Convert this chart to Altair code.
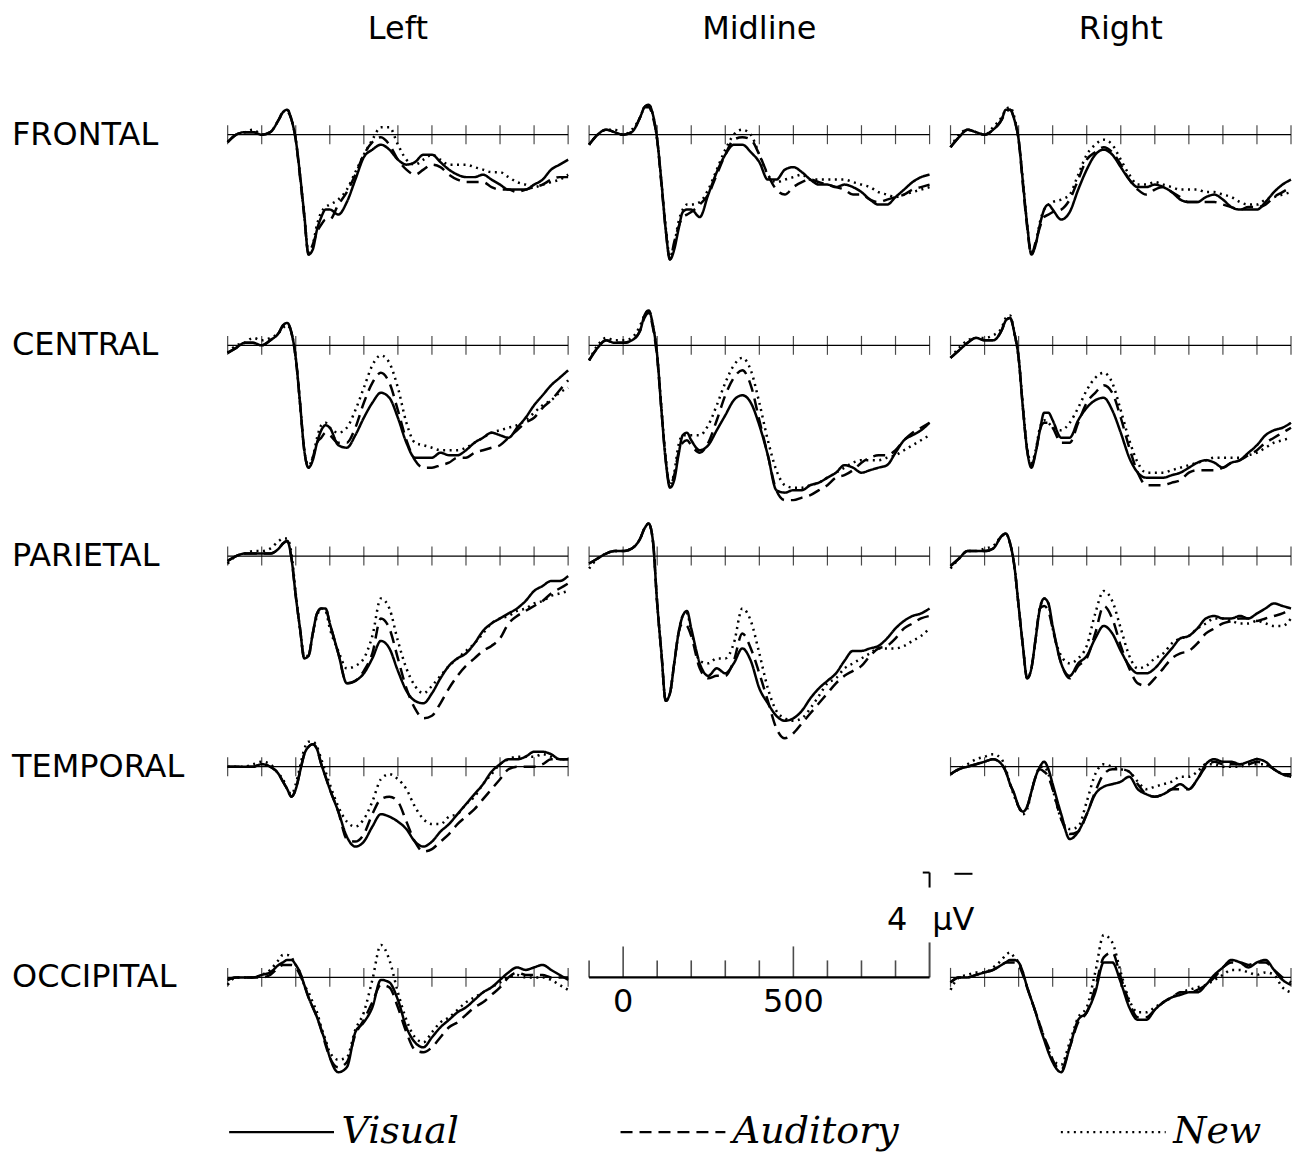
import altair as alt
import pandas as pd

# ---------------- time grid (ms) ----------------
T = [-100, -75, -50, -25, 0, 25, 50, 62.5, 75, 87.5, 100, 112.5, 125, 137.5, 150,
     162.5, 175, 187.5, 200, 225, 250, 275, 300, 325, 350, 375, 400, 425, 450, 475,
     500, 525, 550, 575, 600, 625, 650, 675, 700, 725, 750, 775, 800, 825, 850, 875, 900]
TICK_TIMES = [-100, 0, 100, 200, 300, 400, 500, 600, 700, 800, 900]
CONDS = ["Visual", "Auditory", "New"]
ROWS = ["FRONTAL", "CENTRAL", "PARIETAL", "TEMPORAL", "OCCIPITAL"]
COLS = ["Left", "Midline", "Right"]

# ---------------- amplitudes (uV, negative plotted up) ----------------
FL_VIS = [0.3,0,-0.1,-0.1,0,-0.1,-0.6,-0.9,-1.0,-0.6,0.2,1.6,3.2,4.8,4.6,3.8,3.3,3.0,3.0,3.2,2.7,1.8,0.9,0.6,0.4,0.6,1.0,1.2,1.1,0.8,0.8,1.1,1.4,1.6,1.7,1.7,1.6,1.8,2.0,2.2,2.2,2.2,2.0,1.8,1.4,1.2,1.0]
FL_AUD = [0.3,0,-0.1,-0.1,0,-0.1,-0.6,-0.9,-0.9,-0.6,0.2,1.7,3.3,4.8,4.4,3.9,3.6,3.4,3.4,2.8,2.3,1.6,0.8,0.3,0.1,0.4,1.0,1.4,1.6,1.4,1.2,1.3,1.6,1.8,1.9,1.9,1.9,2.1,2.2,2.2,2.3,2.2,2.1,2.0,1.8,1.7,1.7]
FL_NEW = [0.3,0,-0.1,-0.2,0,-0.1,-0.6,-0.9,-1.0,-0.6,0.2,1.6,3.2,4.7,4.4,3.6,3.1,2.9,2.8,2.6,2.2,1.5,0.8,0.2,-0.3,-0.3,0.4,1.0,1.2,1.0,0.8,1.0,1.2,1.2,1.2,1.3,1.4,1.5,1.5,1.7,1.9,2.0,2.1,2.0,1.9,1.8,1.6]

FM_VIS = [0.4,0,-0.2,-0.1,0,-0.1,-0.7,-1.1,-1.2,-0.8,0.2,1.9,3.8,5.0,4.6,3.8,3.1,3.0,3.0,3.3,2.4,1.5,0.8,0.4,0.4,0.7,1.1,1.8,1.8,1.4,1.3,1.5,1.8,2.0,2.0,2.1,2.0,2.1,2.3,2.6,2.8,2.8,2.5,2.2,1.9,1.7,1.6]
FM_AUD = [0.4,0,-0.2,-0.1,0,-0.1,-0.7,-1.1,-1.1,-0.7,0.2,2.0,3.8,5.0,4.3,3.7,3.3,3.2,3.1,2.8,2.4,1.6,0.8,0.2,0.1,0.2,0.8,1.6,2.2,2.4,2.1,1.9,1.8,1.9,2.0,2.1,2.2,2.4,2.4,2.6,2.7,2.6,2.5,2.4,2.2,2.1,2.0]
FM_NEW = [0.4,0,-0.2,-0.2,0,-0.2,-0.7,-1.1,-1.2,-0.8,0.2,1.9,3.7,4.9,4.4,3.5,3.0,2.8,2.8,2.7,2.2,1.4,0.6,0.0,-0.2,0.0,0.8,1.6,1.9,1.8,1.7,1.6,1.8,1.8,1.8,1.8,1.8,1.9,2.0,2.1,2.3,2.4,2.5,2.4,2.3,2.2,2.1]

FR_VIS = [0.5,0.1,-0.2,-0.1,0,-0.2,-0.6,-1.0,-1.0,-0.6,0.2,1.9,3.6,4.8,4.4,3.6,3.0,2.8,3.0,3.4,3.1,2.2,1.4,0.8,0.6,0.8,1.3,1.8,2.1,2.1,2.0,2.1,2.3,2.6,2.7,2.7,2.5,2.4,2.6,2.9,3.0,3.0,3.0,2.7,2.3,2.0,1.8]
FR_AUD = [0.5,0.1,-0.2,-0.1,0,-0.2,-0.6,-0.9,-1.0,-0.6,0.2,2.0,3.7,4.8,4.3,3.7,3.3,3.2,3.1,3.0,2.6,1.8,1.0,0.7,0.5,0.7,1.2,1.8,2.2,2.4,2.2,2.1,2.3,2.5,2.7,2.7,2.7,2.7,2.8,2.9,3.0,2.9,2.9,2.8,2.5,2.3,2.1]
FR_NEW = [0.5,0,-0.2,-0.1,0,-0.3,-0.7,-1.0,-1.1,-0.7,0.2,1.8,3.6,4.7,4.4,3.5,3.0,2.8,2.7,2.6,2.4,1.6,0.8,0.4,0.2,0.4,1.0,1.6,2.0,2.0,1.9,2.0,2.1,2.2,2.2,2.2,2.3,2.3,2.4,2.5,2.7,2.8,2.8,2.6,2.5,2.4,2.3]

CL_VIS = [0.3,0.1,-0.1,-0.1,0,-0.2,-0.5,-0.8,-0.9,-0.5,0.5,2.3,4.2,4.9,4.6,3.9,3.4,3.2,3.3,4.0,4.1,3.6,2.9,2.3,1.9,2.1,2.9,3.9,4.5,4.5,4.5,4.3,4.4,4.4,4.2,3.9,3.7,3.5,3.6,3.7,3.3,2.9,2.4,2.0,1.6,1.3,1.0]
CL_AUD = [0.3,0.1,-0.1,-0.1,0,-0.2,-0.5,-0.8,-0.9,-0.5,0.5,2.3,4.2,4.9,4.5,3.9,3.7,3.5,3.6,3.9,3.9,3.3,2.3,1.5,1.1,1.5,2.6,3.8,4.6,4.9,4.9,4.8,4.7,4.5,4.5,4.3,4.2,4.1,4.0,3.7,3.4,3.1,2.9,2.5,2.2,1.8,1.4]
CL_NEW = [0.3,0,-0.1,-0.3,-0.2,-0.3,-0.5,-0.7,-0.8,-0.5,0.5,2.3,4.2,4.8,4.5,3.7,3.2,3.1,3.3,3.5,3.3,2.6,1.7,0.8,0.4,0.7,1.7,3.1,3.9,4.0,4.1,4.2,4.2,4.2,4.1,3.9,3.7,3.5,3.4,3.3,3.2,3.0,2.7,2.4,2.2,1.9,1.7]

CM_VIS = [0.6,0.1,-0.2,-0.1,-0.1,-0.2,-0.6,-1.2,-1.4,-0.8,0.4,2.6,4.6,5.7,5.4,4.4,3.6,3.5,3.8,4.2,4.0,3.4,2.8,2.2,2.0,2.3,3.2,4.4,5.8,5.9,5.8,5.8,5.6,5.5,5.3,5.1,4.8,4.9,5.1,5.0,4.9,4.8,4.3,3.8,3.6,3.4,3.1]
CM_AUD = [0.6,0.1,-0.2,-0.1,-0.1,-0.2,-0.6,-1.1,-1.3,-0.7,0.5,2.6,4.6,5.6,5.2,4.3,3.9,3.8,4.0,4.3,3.9,3.0,2.0,1.3,1.0,1.6,3.0,4.4,5.8,6.2,6.2,6.1,6.0,5.8,5.6,5.3,5.2,5.0,4.7,4.5,4.4,4.4,4.2,3.8,3.5,3.3,3.1]
CM_NEW = [0.6,0.0,-0.3,-0.2,-0.2,-0.3,-0.8,-1.2,-1.4,-0.8,0.4,2.5,4.5,5.6,5.1,4.0,3.6,3.6,3.6,3.6,3.2,2.4,1.5,0.8,0.5,1.0,2.3,3.8,5.0,5.6,5.7,5.7,5.6,5.5,5.3,5.1,4.9,4.7,4.6,4.6,4.6,4.5,4.4,4.2,4.0,3.8,3.6]

CR_VIS = [0.5,0.2,-0.1,-0.3,-0.2,-0.2,-0.6,-1.0,-1.1,-0.5,0.5,2.5,4.2,4.9,4.3,3.4,2.7,2.7,3.0,3.7,3.7,3.0,2.5,2.2,2.1,2.6,3.5,4.5,5.1,5.3,5.3,5.3,5.2,5.1,4.9,4.7,4.6,4.7,4.9,4.7,4.6,4.3,4.0,3.6,3.4,3.3,3.1]
CR_AUD = [0.5,0.2,-0.1,-0.3,-0.2,-0.2,-0.6,-1.0,-1.1,-0.5,0.5,2.5,4.2,4.8,4.3,3.4,3.1,3.1,3.3,3.9,3.9,3.1,2.3,1.9,1.6,1.9,2.9,4.1,5.1,5.6,5.6,5.6,5.5,5.4,5.1,5.0,5.0,5.0,4.9,4.7,4.6,4.4,4.2,3.9,3.7,3.5,3.3]
CR_NEW = [0.5,0.1,-0.2,-0.3,-0.3,-0.4,-0.7,-1.1,-1.2,-0.5,0.5,2.4,4.1,4.7,4.2,3.3,3.0,3.1,3.3,3.4,3.1,2.5,1.8,1.3,1.1,1.5,2.6,3.8,4.7,5.1,5.1,5.1,5.0,4.9,4.8,4.7,4.6,4.5,4.5,4.5,4.5,4.4,4.3,4.1,3.9,3.8,3.7]

PL_VIS = [0.2,0.0,-0.1,-0.1,-0.1,-0.1,-0.3,-0.5,-0.6,0.1,1.6,2.9,4.1,4.0,3.1,2.3,2.1,2.1,2.7,3.9,5.1,5.0,4.7,4.1,3.4,3.7,4.6,5.4,5.8,5.9,5.5,4.9,4.4,4.1,3.9,3.5,3.0,2.7,2.5,2.3,2.1,1.8,1.4,1.2,1.0,1.0,0.8]
PL_AUD = [0.2,0.0,-0.1,-0.1,-0.1,-0.1,-0.3,-0.5,-0.6,0.1,1.6,2.9,4.1,4.0,3.1,2.3,2.1,2.1,2.7,3.9,5.1,5.0,4.6,3.9,2.5,2.9,4.1,5.3,6.1,6.5,6.4,5.9,5.3,4.8,4.4,4.1,3.8,3.6,3.3,2.7,2.4,2.2,2.0,1.8,1.5,1.3,1.1]
PL_NEW = [0.3,0.0,-0.1,-0.2,-0.2,-0.3,-0.6,-0.7,-0.7,-0.1,1.5,2.9,4.0,4.0,3.1,2.4,2.1,2.2,2.9,3.8,4.5,4.4,4.1,3.2,1.7,2.1,3.4,4.5,5.2,5.5,5.2,4.8,4.4,4.1,3.8,3.5,3.1,2.7,2.5,2.4,2.2,2.1,1.9,1.8,1.6,1.5,1.4]

PM_VIS = [0.3,0.1,-0.1,-0.2,-0.2,-0.3,-0.7,-1.1,-1.3,-0.6,1.9,3.9,5.8,5.5,4.3,3.1,2.4,2.2,2.9,4.3,4.8,4.5,4.7,4.3,3.7,4.2,5.3,5.9,6.4,6.6,6.5,6.2,5.7,5.3,5.0,4.7,4.2,3.8,3.8,3.7,3.6,3.3,2.9,2.6,2.4,2.3,2.1]
PM_AUD = [0.3,0.1,-0.1,-0.2,-0.2,-0.3,-0.7,-1.1,-1.3,-0.6,1.9,3.9,5.8,5.5,4.3,3.1,2.7,2.8,3.2,4.5,4.9,4.8,4.8,4.2,3.1,3.7,4.7,5.8,6.9,7.3,7.1,6.7,6.3,5.9,5.5,5.1,4.8,4.6,4.4,4.0,3.7,3.6,3.3,2.9,2.7,2.5,2.4]
PM_NEW = [0.5,0.1,-0.1,-0.2,-0.2,-0.3,-0.7,-1.1,-1.3,-0.6,1.9,3.9,5.8,5.5,4.3,3.1,2.4,2.3,3.0,4.2,4.3,4.1,4.1,3.5,2.1,2.6,3.9,5.3,6.2,6.5,6.6,6.5,6.1,5.6,5.1,4.9,4.5,4.3,4.1,3.9,3.7,3.7,3.7,3.6,3.4,3.2,2.9]

PR_VIS = [0.4,0.1,-0.2,-0.2,-0.2,-0.3,-0.8,-0.9,-0.5,0.4,2.0,3.6,4.9,4.5,3.3,2.1,1.7,1.9,2.8,4.3,4.8,4.3,4.0,3.3,2.8,3.1,3.8,4.4,4.7,4.7,4.5,4.1,3.7,3.3,3.2,2.9,2.5,2.4,2.5,2.5,2.4,2.5,2.3,2.1,1.9,2.0,2.1]
PR_AUD = [0.4,0.1,-0.2,-0.2,-0.2,-0.3,-0.8,-0.9,-0.5,0.4,2.0,3.6,4.9,4.5,3.3,2.1,2.0,2.2,2.9,4.3,4.9,4.4,4.1,3.1,2.0,2.5,3.6,4.5,5.1,5.2,4.9,4.5,4.1,3.9,3.8,3.5,3.1,2.9,2.7,2.6,2.5,2.5,2.6,2.5,2.4,2.3,2.1]
PR_NEW = [0.5,0.1,-0.2,-0.2,-0.3,-0.4,-0.8,-0.9,-0.5,0.4,2.0,3.6,4.9,4.5,3.3,2.1,1.7,1.9,2.9,4.0,4.3,4.1,3.6,2.3,1.4,1.8,2.9,4.0,4.5,4.4,4.1,3.9,3.5,3.3,3.2,2.9,2.7,2.5,2.5,2.6,2.7,2.7,2.6,2.7,2.8,2.8,2.5]

TL_VIS = [0.0,0.0,0.0,0.0,-0.1,0.0,0.3,0.6,0.9,1.2,0.9,0.2,-0.5,-0.8,-0.9,-0.7,-0.1,0.4,0.9,1.8,2.8,3.2,3.0,2.4,1.9,2.0,2.2,2.5,3.0,3.2,3.0,2.6,2.3,1.9,1.5,1.1,0.7,0.2,-0.1,-0.3,-0.3,-0.4,-0.6,-0.6,-0.5,-0.3,-0.3]
TL_AUD = [0.0,0.0,0.0,0.0,-0.1,0.0,0.3,0.6,0.9,1.2,0.9,0.2,-0.5,-0.8,-0.9,-0.7,-0.1,0.4,0.9,1.8,2.9,3.0,2.7,1.9,1.3,1.2,1.4,2.2,3.0,3.4,3.3,3.0,2.7,2.3,2.0,1.7,1.3,0.9,0.5,0.1,0.0,0.0,0.0,-0.1,-0.3,-0.3,-0.3]
TL_NEW = [0.0,0.0,0.0,-0.1,-0.2,-0.1,0.3,0.5,0.9,1.1,0.7,0.0,-0.7,-1.0,-1.0,-0.8,-0.3,0.2,0.7,1.6,2.2,2.4,2.1,1.4,0.5,0.3,0.5,0.9,1.6,2.1,2.3,2.3,2.0,1.9,1.5,1.2,0.7,0.3,-0.1,-0.3,-0.4,-0.4,-0.4,-0.5,-0.4,-0.3,-0.3]

TR_VIS = [0.3,0.1,0.0,-0.1,-0.2,-0.3,-0.1,0.2,0.7,1.1,1.6,1.8,1.6,1.0,0.4,0.0,-0.2,0.1,0.7,1.9,2.9,2.6,1.9,1.1,0.8,0.7,0.6,0.4,0.9,1.1,1.2,1.1,0.9,0.7,0.9,0.5,-0.1,-0.3,-0.2,-0.2,-0.1,-0.2,-0.3,-0.2,0.1,0.3,0.4]
TR_AUD = [0.3,0.1,0.0,-0.1,-0.2,-0.3,-0.1,0.2,0.7,1.1,1.6,1.8,1.6,1.0,0.4,0.1,0.2,0.4,0.9,2.1,2.7,2.6,1.9,1.0,0.3,0.1,0.1,0.2,0.7,1.1,1.2,1.1,0.9,0.9,0.9,0.5,0.0,-0.2,-0.1,-0.1,-0.1,-0.1,-0.2,-0.1,0.1,0.3,0.3]
TR_NEW = [0.3,0.1,-0.1,-0.3,-0.4,-0.5,-0.3,0.1,0.7,1.2,1.6,1.9,1.7,1.0,0.4,0.0,0.0,0.3,0.9,2.1,2.5,2.4,1.4,0.3,-0.1,0.0,0.1,0.2,0.6,0.9,0.8,0.7,0.6,0.4,0.4,0.2,-0.1,-0.1,0.0,0.0,0.0,-0.1,-0.1,-0.1,0.1,0.3,0.4]

OL_VIS = [0.1,0.0,0.0,0.0,-0.1,-0.2,-0.5,-0.6,-0.7,-0.7,-0.5,-0.2,0.3,0.8,1.2,1.6,2.1,2.6,3.2,3.8,3.6,2.2,1.8,1.2,0.1,0.2,0.9,2.0,2.6,2.8,2.4,2.0,1.7,1.4,1.2,0.9,0.6,0.4,0.1,-0.2,-0.4,-0.3,-0.4,-0.5,-0.3,-0.1,0.1]
OL_AUD = [0.1,0.0,0.0,0.0,0.0,-0.1,-0.4,-0.5,-0.5,-0.5,-0.4,-0.1,0.3,0.8,1.2,1.6,2.1,2.7,3.2,3.6,3.4,2.3,1.7,1.0,0.3,0.4,1.2,2.2,2.9,3.0,2.8,2.4,2.0,1.8,1.5,1.2,1.0,0.7,0.4,0.0,-0.2,-0.1,-0.1,-0.1,0.0,0.0,0.0]
OL_NEW = [0.3,0.0,0.0,0.0,-0.1,-0.3,-0.7,-0.9,-0.9,-0.8,-0.5,-0.2,0.3,0.6,1.0,1.4,2.0,2.5,3.0,3.3,3.2,2.1,1.4,0.1,-1.3,-0.7,0.6,1.7,2.4,2.6,2.2,1.8,1.6,1.3,1.0,0.8,0.6,0.4,0.2,0.0,-0.1,0.0,0.0,0.0,0.1,0.3,0.5]

OR_VIS = [0.2,0.0,0.0,-0.1,-0.2,-0.3,-0.5,-0.6,-0.7,-0.7,-0.6,-0.2,0.4,0.9,1.4,2.0,2.5,3.0,3.4,3.8,2.8,1.7,1.4,0.6,-0.6,-0.6,0.2,1.2,1.7,1.7,1.3,1.0,0.8,0.7,0.6,0.6,0.3,-0.1,-0.4,-0.7,-0.6,-0.4,-0.6,-0.7,-0.3,0.1,0.3]
OR_AUD = [0.2,0.0,0.0,-0.1,-0.2,-0.3,-0.5,-0.6,-0.6,-0.6,-0.5,-0.1,0.4,0.9,1.4,1.9,2.4,2.8,3.3,3.7,2.8,1.8,1.4,0.4,-0.8,-1.0,0.0,1.0,1.6,1.6,1.3,1.0,0.8,0.6,0.6,0.5,0.3,0.0,-0.4,-0.6,-0.6,-0.5,-0.6,-0.6,-0.3,0.0,0.2]
OR_NEW = [0.5,0.0,-0.1,-0.2,-0.2,-0.4,-0.7,-0.9,-1.0,-0.8,-0.6,-0.2,0.4,0.9,1.4,1.9,2.4,2.9,3.3,3.5,2.6,1.6,1.2,-0.2,-1.7,-1.4,-0.2,0.9,1.4,1.4,1.2,1.0,0.8,0.6,0.5,0.4,0.3,0.1,-0.1,-0.3,-0.3,-0.2,-0.1,-0.2,-0.1,0.4,0.6]

PANELS = {
    ("FRONTAL", "Left"): (FL_VIS, FL_AUD, FL_NEW),
    ("FRONTAL", "Midline"): (FM_VIS, FM_AUD, FM_NEW),
    ("FRONTAL", "Right"): (FR_VIS, FR_AUD, FR_NEW),
    ("CENTRAL", "Left"): (CL_VIS, CL_AUD, CL_NEW),
    ("CENTRAL", "Midline"): (CM_VIS, CM_AUD, CM_NEW),
    ("CENTRAL", "Right"): (CR_VIS, CR_AUD, CR_NEW),
    ("PARIETAL", "Left"): (PL_VIS, PL_AUD, PL_NEW),
    ("PARIETAL", "Midline"): (PM_VIS, PM_AUD, PM_NEW),
    ("PARIETAL", "Right"): (PR_VIS, PR_AUD, PR_NEW),
    ("TEMPORAL", "Left"): (TL_VIS, TL_AUD, TL_NEW),
    ("TEMPORAL", "Right"): (TR_VIS, TR_AUD, TR_NEW),
    ("OCCIPITAL", "Left"): (OL_VIS, OL_AUD, OL_NEW),
    ("OCCIPITAL", "Right"): (OR_VIS, OR_AUD, OR_NEW),
}
EMPTY_PANELS = [("TEMPORAL", "Midline")]

# ---------------- scale bar (drawn in the occipital/midline cell) ----------------
SCALE_SMALL_TICKS = [-100, 100, 200, 300, 400, 600, 700, 800]
SCALE_LARGE_TICKS = [0, 500]
SCALE_END_TICK = [900]
SCALE_LABELS = ["0", "500"]
SCALE_LABEL_T = [0, 500]
SCALE_LABEL_V = 1.0
CAL_SEGMENTS = [  # (t, t2, v, v2)
    (900, 900, -4.2, -3.6),
    (880, 900, -4.2, -4.2),
    (973, 1026, -4.15, -4.15),
]
CAL_NUMBER = "4"
CAL_UNIT = "\u03bcV"
CAL_NUMBER_T, CAL_UNIT_T, CAL_TEXT_V = 835, 908, -2.3

# ---------------- build table ----------------
records = []
for (r, c), series in PANELS.items():
    for cond, vals in zip(CONDS, series):
        for t, v in zip(T, vals):
            records.append(dict(row=r, col=c, kind="wave", cond=cond, t=t, v=v))
    records.append(dict(row=r, col=c, kind="base", t=-100, t2=900, v=0))
    for t in TICK_TIMES:
        records.append(dict(row=r, col=c, kind="tick", t=t, v=0))
for (r, c) in EMPTY_PANELS:
    records.append(dict(row=r, col=c, kind="none", t=0, v=0))
for r in ROWS:
    records.append(dict(row=r, col="Left", kind="rowlabel", t=-100, v=0, label=r))

SR, SC = "OCCIPITAL", "Midline"
records.append(dict(row=SR, col=SC, kind="saxis", t=-100, t2=900, v=0))
for t in SCALE_SMALL_TICKS:
    records.append(dict(row=SR, col=SC, kind="stick_s", t=t, v=0))
for t in SCALE_LARGE_TICKS:
    records.append(dict(row=SR, col=SC, kind="stick_l", t=t, v=0))
for t in SCALE_END_TICK:
    records.append(dict(row=SR, col=SC, kind="stick_e", t=t, v=0))
for lab, t in zip(SCALE_LABELS, SCALE_LABEL_T):
    records.append(dict(row=SR, col=SC, kind="slabel", t=t, v=SCALE_LABEL_V, label=lab))
for (t, t2, v, v2) in CAL_SEGMENTS:
    records.append(dict(row=SR, col=SC, kind="cal", t=t, t2=t2, v=v, v2=v2))
records.append(dict(row=SR, col=SC, kind="calnum", t=CAL_NUMBER_T, v=CAL_TEXT_V, label=CAL_NUMBER))
records.append(dict(row=SR, col=SC, kind="calunit", t=CAL_UNIT_T, v=CAL_TEXT_V, label=CAL_UNIT))

df = pd.DataFrame(records)

# ---------------- encodings ----------------
X = alt.X("t:Q", scale=alt.Scale(domain=[-100, 900], nice=False, zero=False), axis=None)
Y = alt.Y("v:Q", scale=alt.Scale(domain=[-1.2, 6.4], reverse=True, nice=False, zero=False), axis=None)
FONT = "DejaVu Sans"


def only(kind):
    return alt.datum.kind == kind


waves = alt.Chart().mark_line(color="black", strokeWidth=2.5, interpolate="monotone").encode(
    x=X, y=Y,
    strokeDash=alt.StrokeDash(
        "cond:N",
        scale=alt.Scale(domain=CONDS, range=[[1, 0], [12, 7], [2, 4.5]]),
        legend=alt.Legend(
            orient="none", legendX=0, legendY=975, direction="horizontal", columns=3,
            title=None, symbolType="stroke", symbolSize=11025, symbolStrokeWidth=2.4,
            symbolStrokeColor="black", labelFont="DejaVu Serif", labelFontStyle="italic",
            labelFontSize=38, labelColor="black", labelOffset=6, columnPadding=156,
            padding=0, labelLimit=400,
        ),
    ),
).transform_filter(only("wave"))

baseline = alt.Chart().mark_rule(color="black", strokeWidth=1.2).encode(
    x=X, x2="t2:Q", y=Y).transform_filter(only("base"))
ticks = alt.Chart().mark_tick(orient="vertical", size=19, thickness=1.2, color="black").encode(
    x=X, y=Y).transform_filter(only("tick"))
row_labels = alt.Chart().mark_text(align="left", baseline="middle", font=FONT, fontSize=32,
                                   color="black").encode(
    x=alt.value(-216), y=Y, text="label:N").transform_filter(only("rowlabel"))

saxis = alt.Chart().mark_rule(color="black", strokeWidth=2.2).encode(
    x=X, x2="t2:Q", y=Y).transform_filter(only("saxis"))
st_s = alt.Chart().mark_tick(orient="vertical", size=17, thickness=1.6, yOffset=-8.5,
                             color="black").encode(x=X, y=Y).transform_filter(only("stick_s"))
st_l = alt.Chart().mark_tick(orient="vertical", size=31, thickness=1.6, yOffset=-15.5,
                             color="black").encode(x=X, y=Y).transform_filter(only("stick_l"))
st_e = alt.Chart().mark_tick(orient="vertical", size=35, thickness=2.0, yOffset=-17.5,
                             color="black").encode(x=X, y=Y).transform_filter(only("stick_e"))
slabels = alt.Chart().mark_text(align="center", baseline="middle", font=FONT, fontSize=32,
                                color="black").encode(
    x=X, y=Y, text="label:N").transform_filter(only("slabel"))
cal = alt.Chart().mark_rule(color="black", strokeWidth=2.0).encode(
    x=X, x2="t2:Q", y=Y, y2="v2:Q").transform_filter(only("cal"))
calnum = alt.Chart().mark_text(align="right", baseline="middle", font=FONT, fontSize=32,
                               color="black").encode(
    x=X, y=Y, text="label:N").transform_filter(only("calnum"))
calunit = alt.Chart().mark_text(align="left", baseline="middle", font=FONT, fontSize=32,
                                color="black").encode(
    x=X, y=Y, text="label:N").transform_filter(only("calunit"))

layered = alt.layer(
    baseline, ticks, waves, row_labels, saxis, st_s, st_l, st_e, slabels, cal, calnum, calunit
).properties(width=341, height=190, view=alt.ViewBackground(stroke="transparent", strokeWidth=0))

chart = layered.facet(
    data=df,
    row=alt.Row("row:N", sort=ROWS, header=alt.Header(title=None, labels=False)),
    column=alt.Column("col:N", sort=COLS, header=alt.Header(
        title=None, labelFont=FONT, labelFontSize=32, labelColor="black", labelPadding=59)),
    spacing={"row": 21, "column": 21},
    bounds="flush",
).properties(
    padding={"left": 4, "top": 4, "right": 0, "bottom": 0},
    background="white",
).configure_view(stroke="transparent", strokeWidth=0)

chart.save("out.html", embed_options={"renderer": "svg", "actions": False})
